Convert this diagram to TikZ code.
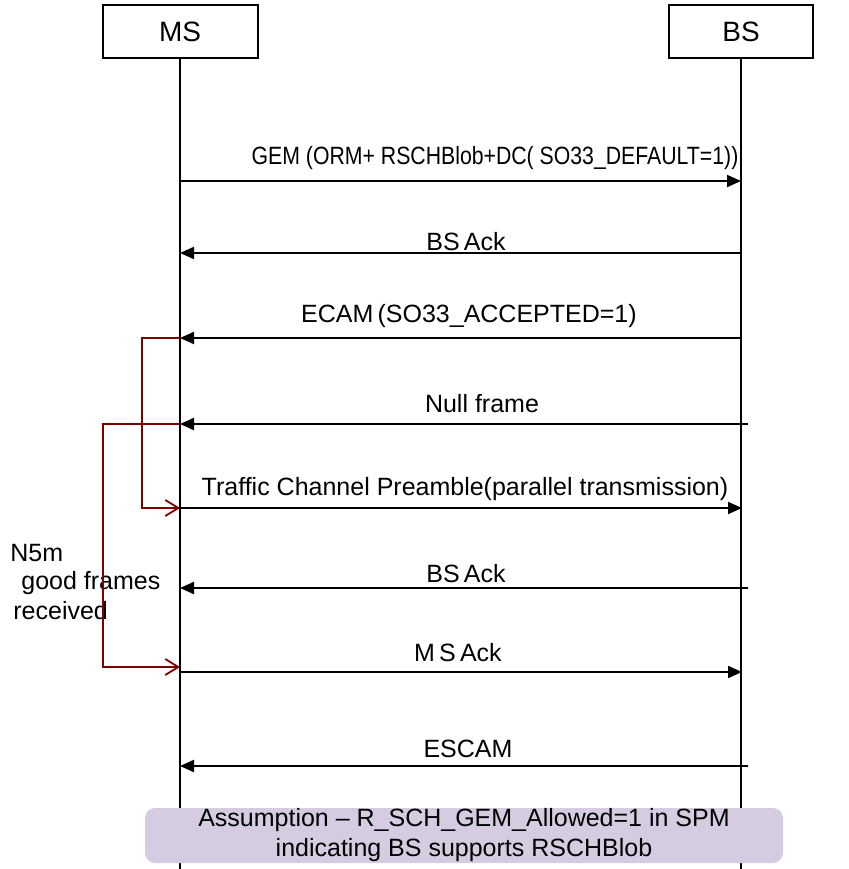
\documentclass[tikz,border=0pt]{standalone}
\usepackage{fontspec}
\setmainfont{Liberation Sans}
\usetikzlibrary{arrows.meta}

\definecolor{loopred}{RGB}{125,0,0}
\definecolor{notefill}{RGB}{213,204,226}

\begin{document}
\begin{tikzpicture}[
                x=0.5pt, y=-0.5pt,
                entity/.style={draw, line width=1pt, minimum height=26.5pt,
                               inner sep=0pt, font=\fontsize{14}{16}\selectfont},
                lifeline/.style={line width=1pt},
                msg/.style={line width=1pt, -{Triangle[length=7pt,width=6pt]}},
                msglabel/.style={inner sep=0pt, font=\fontsize{12.5}{15}\selectfont},
                sidetext/.style={inner sep=0pt, anchor=west, font=\fontsize{12.5}{15}\selectfont},
                loopline/.style={draw=loopred, line width=0.9pt,
                                 -{Straight Barb[length=6.5pt,width=8pt]}},
                note/.style={fill=notefill, rounded corners=5pt, minimum width=319pt,
                             minimum height=27.5pt, inner sep=0pt, align=center,
                             font=\fontsize{12.5}{15}\selectfont}
            ]
                \useasboundingbox (0,0) rectangle (848,869);
                % entities and lifelines
                \node[entity, minimum width=77.5pt] (ms) at (180,31.5) {MS};
                \node[entity, minimum width=72pt] (bs) at (741,31.5) {BS};
                \coordinate (msEnd) at (180,869);
                \coordinate (bsEnd) at (741,869);
                \draw[lifeline] (ms.south) -- (msEnd);
                \draw[lifeline] (bs.south) -- (bsEnd);
                % message end points
                \coordinate (gemMS) at (180,181);   \coordinate (gemBS) at (741,181);
                \coordinate (ackMS) at (180,253);   \coordinate (ackBS) at (741,253);
                \coordinate (ecamMS) at (180,338);  \coordinate (ecamBS) at (741,338);
                \coordinate (nullMS) at (180,424);  \coordinate (nullBS) at (748,424);
                \coordinate (tcpMS) at (180,508);   \coordinate (tcpBS) at (742,508);
                \coordinate (bsackMS) at (180,588); \coordinate (bsackBS) at (748,588);
                \coordinate (goodMS) at (180,667);
                \coordinate (msackMS) at (180,672); \coordinate (msackBS) at (742,672);
                \coordinate (escamMS) at (180,766); \coordinate (escamBS) at (748,766);
                % messages
                \draw[msg] (gemMS) -- (gemBS);
                \node[msglabel] (gemLbl) at (495,158)
                    {\scalebox{0.85}[1]{GEM (ORM+ RSCHBlob+DC( SO33\_DEFAULT=1))}};
                \draw[msg] (ackBS) -- (ackMS);
                \node[msglabel] (ackLbl) at (466,242) {BS\,Ack};
                \draw[msg] (ecamBS) -- (ecamMS);
                \node[msglabel] (ecamLbl) at (469,316) {ECAM\,(SO33\_ACCEPTED=1)};
                \draw[msg] (nullBS) -- (nullMS);
                \node[msglabel] (nullLbl) at (482,404) {Null frame};
                \draw[msg] (tcpMS) -- (tcpBS);
                \node[msglabel] (tcpLbl) at (465,489) {Traffic Channel Preamble(parallel transmission)};
                \draw[msg] (bsackBS) -- (bsackMS);
                \node[msglabel] (bsackLbl) at (466,574) {BS\,Ack};
                \draw[msg] (msackMS) -- (msackBS);
                \node[msglabel] (msackLbl) at (458,653) {M\,S\,Ack};
                \draw[msg] (escamBS) -- (escamMS);
                \node[msglabel] (escamLbl) at (468,749) {ESCAM};
                % side text and loops
                \node[sidetext] (nText) at (10,553) {N5m};
                \node[sidetext] (goodText) at (21,583) {good frames};
                \node[sidetext] (recvText) at (13,611) {received};
                \draw[loopline] (ecamMS) -- ++(-38,0) |- (tcpMS);
                \draw[loopline] (nullMS) -- ++(-77,0) |- (goodMS);
                % assumption note
                \node[note] (assume) at (464,835.5) {Assumption -- R\_SCH\_GEM\_Allowed=1 in SPM\\
                    indicating BS supports RSCHBlob};
            \end{tikzpicture}
\end{document}
